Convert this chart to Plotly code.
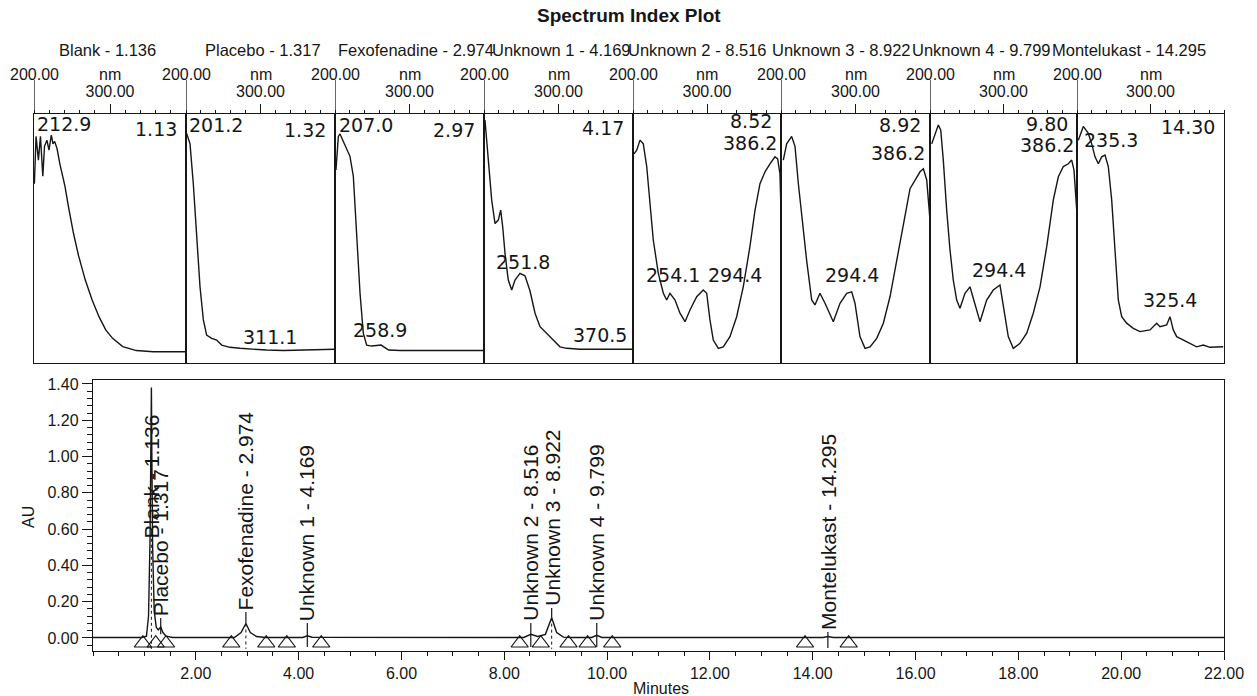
import plotly.graph_objects as go

# ---------------- data ----------------
peak_names = ["Blank", "Placebo", "Fexofenadine", "Unknown 1", "Unknown 2", "Unknown 3", "Unknown 4", "Montelukast"]
peak_times = [1.136, 1.317, 2.974, 4.169, 8.516, 8.922, 9.799, 14.295]
panel_rt_labels = ["1.13", "1.32", "2.97", "4.17", "8.52", "8.92", "9.80", "14.30"]

blank_wl = [200.5, 202.7, 205.8, 208.5, 211.6, 213.8, 217.0, 219.7, 222.8, 225.0, 227.2, 230.4, 234.0, 240.7,
            245.2, 252.0, 258.7, 267.5, 276.5, 285.5, 294.4, 303.4, 316.8, 334.6, 357.0, 400.0]
blank_abs = [0.72, 0.91, 0.815, 0.91, 0.75, 0.87, 0.895, 0.855, 0.915, 0.88, 0.89, 0.86, 0.80, 0.71,
             0.63, 0.52, 0.43, 0.333, 0.253, 0.186, 0.133, 0.099, 0.066, 0.05, 0.045, 0.045]

placebo_wl = [200.9, 205.4, 209.8, 214.3, 218.8, 223.3, 227.7, 234.4, 241.2, 247.9, 259.0, 272.5, 290.3,
              308.3, 330.6, 375.4, 400.0]
placebo_abs = [0.922, 0.88, 0.72, 0.52, 0.306, 0.173, 0.112, 0.099, 0.092, 0.072, 0.063, 0.059, 0.055,
               0.052, 0.05, 0.052, 0.055]

fexo_wl = [201.3, 204.5, 206.7, 211.2, 215.7, 220.1, 224.6, 229.1, 233.6, 238.0, 242.5, 249.2, 256.0,
           262.0, 268.0, 272.0, 287.2, 332.0, 400.0]
fexo_abs = [0.775, 0.91, 0.92, 0.89, 0.855, 0.83, 0.75, 0.52, 0.28, 0.12, 0.072, 0.068, 0.07,
            0.072, 0.06, 0.052, 0.05, 0.05, 0.05]

unk1_wl = [201.3, 205.8, 210.3, 214.8, 219.2, 222.4, 225.1, 228.2, 232.6, 237.2, 241.6, 248.3, 255.0,
           261.7, 268.5, 275.2, 284.2, 293.0, 302.0, 311.0, 328.9, 373.6, 399.6]
unk1_abs = [0.976, 0.815, 0.655, 0.56, 0.574, 0.614, 0.547, 0.44, 0.333, 0.293, 0.333, 0.36, 0.35,
            0.29, 0.2, 0.146, 0.12, 0.092, 0.065, 0.059, 0.055, 0.055, 0.055]

unk2_wl = [201.4, 205.0, 209.5, 213.9, 218.5, 223.0, 227.4, 234.2, 241.0, 245.5, 250.0, 256.8, 263.5,
           270.3, 277.0, 286.1, 295.0, 299.6, 304.0, 308.5, 315.3, 322.0, 331.0, 340.1, 349.0, 358.0,
           364.9, 371.6, 378.4, 385.1, 391.9, 395.5, 398.6, 400.0]
unk2_abs = [0.84, 0.855, 0.895, 0.88, 0.79, 0.655, 0.494, 0.36, 0.28, 0.253, 0.28, 0.253, 0.2,
            0.166, 0.213, 0.266, 0.293, 0.28, 0.173, 0.092, 0.059, 0.065, 0.106, 0.186, 0.306, 0.467,
            0.614, 0.72, 0.768, 0.80, 0.828, 0.82, 0.76, 0.614]

unk3_wl = [203.1, 207.6, 214.3, 218.8, 223.3, 227.7, 234.5, 241.2, 245.6, 252.3, 259.1, 270.2, 279.2,
           288.2, 294.9, 299.3, 306.0, 312.8, 319.5, 328.5, 337.4, 346.3, 357.5, 366.4, 373.2, 379.9,
           386.6, 391.1, 395.6, 400.0]
unk3_abs = [0.815, 0.88, 0.91, 0.87, 0.72, 0.59, 0.41, 0.253, 0.233, 0.28, 0.24, 0.166, 0.24,
            0.28, 0.286, 0.24, 0.106, 0.059, 0.065, 0.099, 0.16, 0.266, 0.44, 0.59, 0.70, 0.735,
            0.768, 0.78, 0.735, 0.574]

unk4_wl = [202.3, 206.8, 211.3, 214.6, 218.1, 222.7, 227.2, 231.7, 236.3, 240.8, 247.6, 254.4, 261.2,
           268.0, 277.1, 286.1, 295.2, 299.7, 306.5, 313.3, 322.4, 331.6, 340.5, 349.7, 358.8, 367.8,
           374.6, 381.4, 388.2, 392.8, 395.9, 399.6]
unk4_abs = [0.88, 0.92, 0.956, 0.936, 0.815, 0.614, 0.454, 0.333, 0.253, 0.22, 0.28, 0.306, 0.24,
            0.166, 0.253, 0.293, 0.313, 0.226, 0.106, 0.059, 0.079, 0.12, 0.2, 0.306, 0.467, 0.655,
            0.748, 0.789, 0.80, 0.815, 0.775, 0.614]

mont_wl = [201.8, 208.6, 215.4, 220.0, 224.5, 229.0, 233.6, 238.1, 242.6, 247.2, 251.7, 256.2, 260.8,
           267.6, 276.6, 285.7, 299.3, 308.4, 312.9, 322.0, 326.5, 331.0, 335.6, 344.6, 353.7, 362.8,
           371.8, 380.9, 399.0]
mont_abs = [0.895, 0.95, 0.922, 0.88, 0.828, 0.80, 0.828, 0.835, 0.789, 0.655, 0.454, 0.253, 0.186,
            0.16, 0.139, 0.126, 0.133, 0.16, 0.146, 0.153, 0.186, 0.133, 0.106, 0.092, 0.079, 0.065,
            0.072, 0.063, 0.065]

# lambda-max labels per panel
lambda_labels = [["212.9"], ["201.2", "311.1"], ["207.0", "258.9"], ["251.8", "370.5"],
                 ["386.2", "254.1", "294.4"], ["386.2", "294.4"], ["386.2", "294.4"], ["235.3", "325.4"]]

chrom_time = [0.0, 0.95, 1.04, 1.08, 1.11, 1.125, 1.136, 1.145, 1.16, 1.19, 1.23, 1.27, 1.317, 1.36,
              1.42, 1.55, 2.75, 2.88, 2.974, 3.06, 3.18, 3.35, 4.08, 4.169, 4.26, 8.38, 8.516, 8.65,
              8.80, 8.922, 9.02, 9.15, 9.30, 9.70, 9.799, 9.90, 14.20, 14.295, 14.40, 22.0]
chrom_au = [0.003, 0.003, 0.01, 0.12, 0.55, 1.0, 1.38, 1.0, 0.5, 0.15, 0.06, 0.045, 0.06, 0.03,
            0.01, 0.003, 0.003, 0.03, 0.08, 0.03, 0.008, 0.003, 0.003, 0.012, 0.004, 0.003, 0.02, 0.008,
            0.02, 0.112, 0.03, 0.005, 0.003, 0.003, 0.015, 0.003, 0.003, 0.008, 0.003, 0.003]

integration_marks = [0.97, 1.22, 1.42, 2.69, 3.37, 3.77, 4.44, 8.30, 8.71, 9.25, 9.62, 10.10, 13.85, 14.70]

time_ticks = [2, 4, 6, 8, 10, 12, 14, 16, 18, 20, 22]
au_ticks = [0.0, 0.2, 0.4, 0.6, 0.8, 1.0, 1.2, 1.4]
wl_ticks = [200, 300]

spectra = [(blank_wl, blank_abs), (placebo_wl, placebo_abs), (fexo_wl, fexo_abs), (unk1_wl, unk1_abs),
           (unk2_wl, unk2_abs), (unk3_wl, unk3_abs), (unk4_wl, unk4_abs), (mont_wl, mont_abs)]

# ---------------- layout helpers ----------------
W, H = 1257, 696
INK = "#161616"
SANS = "Liberation Sans, Arial, sans-serif"
NUMF = "DejaVu Sans, sans-serif"


def px(x):
    return x / W


def py(y):
    return 1 - y / H


bounds = [34, 186, 335, 484, 633, 781, 930, 1077, 1224]
spec_top, spec_bot = 114, 363

fig = go.Figure()
layout = dict(width=W, height=H, margin=dict(l=0, r=0, t=0, b=0, autoexpand=False), paper_bgcolor="white",
              plot_bgcolor="white", showlegend=False)
annotations = []
shapes = []

rt_y = [0.94, 0.936, 0.936, 0.944, 0.972, 0.956, 0.958, 0.948]
for i, (wl, ab) in enumerate(spectra):
    sfx = "" if i == 0 else str(i + 1)
    fig.add_trace(go.Scatter(x=wl, y=ab, xaxis="x" + sfx, yaxis="y" + sfx, mode="lines",
                             line=dict(color=INK, width=1.4), hoverinfo="skip"))
    layout["xaxis" + sfx] = dict(domain=[px(bounds[i]), px(bounds[i + 1])], range=[200, 400],
                                 anchor="y" + sfx, side="top", showline=True, mirror=True, automargin=False,
                                 linecolor=INK, linewidth=1.4, tickvals=[wl_ticks[1]],
                                 ticktext=["%.2f" % wl_ticks[1]], ticks="outside", ticklen=9,
                                 tickwidth=1.2, tickcolor=INK,
                                 tickfont=dict(family=SANS, size=16, color=INK),
                                 minor=dict(tick0=200, dtick=20, ticks="outside", ticklen=3,
                                            tickcolor=INK, tickwidth=1),
                                 showgrid=False, zeroline=False)
    layout["yaxis" + sfx] = dict(domain=[py(spec_bot), py(spec_top)], range=[0, 1], anchor="x" + sfx,
                                 showline=True, mirror=True, linecolor=INK, linewidth=1.4, automargin=False,
                                 showticklabels=False, ticks="", showgrid=False, zeroline=False)
    shapes.append(dict(type="line", xref="x" + sfx, yref="paper", x0=wl_ticks[0], x1=wl_ticks[0],
                       y0=py(spec_top), y1=py(80), line=dict(color=INK, width=1.3)))
    annotations.append(dict(xref="x" + sfx, yref="paper", x=wl_ticks[0], y=py(74), text="%.2f" % wl_ticks[0],
                            xanchor="center", yanchor="middle", showarrow=False,
                            font=dict(family=SANS, size=16, color=INK)))
    annotations.append(dict(xref="x" + sfx, yref="paper", x=300, y=py(74), text="nm",
                            xanchor="center", yanchor="middle", showarrow=False,
                            font=dict(family=SANS, size=16, color=INK)))
    annotations.append(dict(xref="x" + sfx, yref="y" + sfx, x=391, y=rt_y[i],
                            text=panel_rt_labels[i], xanchor="right", yanchor="middle", showarrow=False,
                            font=dict(family=NUMF, size=19, color=INK)))

lambda_pos = [[(201, 0.96, "left")],
              [(201.3, 0.956, "left"), (312.8, 0.104, "center")],
              [(202.7, 0.956, "left"), (260.4, 0.133, "center")],
              [(251.7, 0.406, "center"), (355.7, 0.112, "center")],
              [(358, 0.882, "center"), (253.4, 0.353, "center"), (337.8, 0.353, "center")],
              [(357, 0.843, "center"), (295.3, 0.353, "center")],
              [(359.2, 0.876, "center"), (293.9, 0.373, "center")],
              [(246.3, 0.896, "center"), (326.5, 0.253, "center")]]
for i, labs in enumerate(lambda_labels):
    sfx = "" if i == 0 else str(i + 1)
    for txt, (lx, ly, anc) in zip(labs, lambda_pos[i]):
        annotations.append(dict(xref="x" + sfx, yref="y" + sfx, x=lx, y=ly, text=txt, xanchor=anc,
                                yanchor="middle", showarrow=False,
                                font=dict(family=NUMF, size=19, color=INK)))

# header row
header_left = [57, 203, 336, 490, 626, 770, 910, 1050]
for name, rt, xl in zip(peak_names, peak_times, header_left):
    annotations.append(dict(xref="paper", yref="paper", x=px(xl), y=py(50), xanchor="left", yanchor="middle",
                            text="%s - %.3f" % (name, rt), showarrow=False,
                            font=dict(family=SANS, size=16.5, color=INK)))
annotations.append(dict(xref="paper", yref="paper", x=px(629), y=py(16), xanchor="center", yanchor="middle",
                        text="<b>Spectrum Index Plot</b>", showarrow=False,
                        font=dict(family=SANS, size=19, color=INK)))

# ---------------- chromatogram ----------------
fig.add_trace(go.Scatter(x=chrom_time, y=chrom_au, xaxis="x9", yaxis="y9", mode="lines",
                         line=dict(color=INK, width=1.4), hoverinfo="skip"))
fig.add_trace(go.Scatter(x=integration_marks, y=[-0.029] * len(integration_marks), xaxis="x9", yaxis="y9",
                         mode="markers", marker=dict(symbol="triangle-up-open", size=15,
                                                     line=dict(color=INK, width=1.2), color=INK),
                         hoverinfo="skip"))

layout["xaxis9"] = dict(domain=[px(93), px(1224)], range=[0, 22], anchor="y9", showline=True, mirror=True,
                        automargin=False,
                        linecolor=INK, linewidth=1.4, tickvals=time_ticks,
                        ticktext=["%.2f" % t for t in time_ticks], ticks="outside", ticklen=8, tickwidth=1.3,
                        tickcolor=INK, tickfont=dict(family=SANS, size=16, color=INK),
                        minor=dict(tick0=0, dtick=0.5, ticks="outside", ticklen=4, tickcolor=INK, tickwidth=1),
                        showgrid=False, zeroline=False)
layout["yaxis9"] = dict(domain=[py(651), py(380)], range=[-0.0717, 1.422], anchor="x9", showline=True,
                        mirror=True, automargin=False, linecolor=INK, linewidth=1.4, tickvals=au_ticks,
                        ticktext=["%.2f" % v for v in au_ticks], ticks="outside", ticklen=10, tickwidth=1.3,
                        tickcolor=INK, tickfont=dict(family=SANS, size=16, color=INK),
                        minor=dict(tick0=0, dtick=0.04, ticks="outside", ticklen=5, tickcolor=INK, tickwidth=1),
                        showgrid=False, zeroline=False)
annotations.append(dict(xref="paper", yref="paper", x=px(28), y=py(517), text="AU", textangle=-90,
                        xanchor="center", yanchor="middle", showarrow=False,
                        font=dict(family=SANS, size=16, color=INK)))
annotations.append(dict(xref="paper", yref="paper", x=px(661), y=py(688), text="Minutes",
                        xanchor="center", yanchor="middle", showarrow=False,
                        font=dict(family=SANS, size=16, color=INK)))

# peak labels, leaders and drop lines
label_base = [0.54, 0.11, 0.143, 0.083, 0.083, 0.165, 0.083, 0.033]
leader_end = [None, 0.02, 0.08, -0.05, -0.05, 0.112, -0.05, -0.055]
drop_top = [0.58, None, 0.08, None, None, 0.112, None, None]
for name, rt, base, lend, dtop in zip(peak_names, peak_times, label_base, leader_end, drop_top):
    annotations.append(dict(xref="x9", yref="y9", x=rt, y=base, yanchor="bottom", xanchor="center",
                            text="%s - %.3f" % (name, rt), textangle=-90, showarrow=False,
                            font=dict(family=SANS, size=21, color=INK)))
    if lend is not None:
        shapes.append(dict(type="line", xref="x9", yref="y9", x0=rt, x1=rt, y0=base, y1=lend,
                           line=dict(color=INK, width=1.2)))
    if dtop is not None:
        shapes.append(dict(type="line", xref="x9", yref="y9", x0=rt, x1=rt, y0=dtop, y1=-0.06,
                           line=dict(color=INK, width=1, dash="dot")))

layout["annotations"] = annotations
layout["shapes"] = shapes
fig.update_layout(**layout)
fig.write_html("out.html")
